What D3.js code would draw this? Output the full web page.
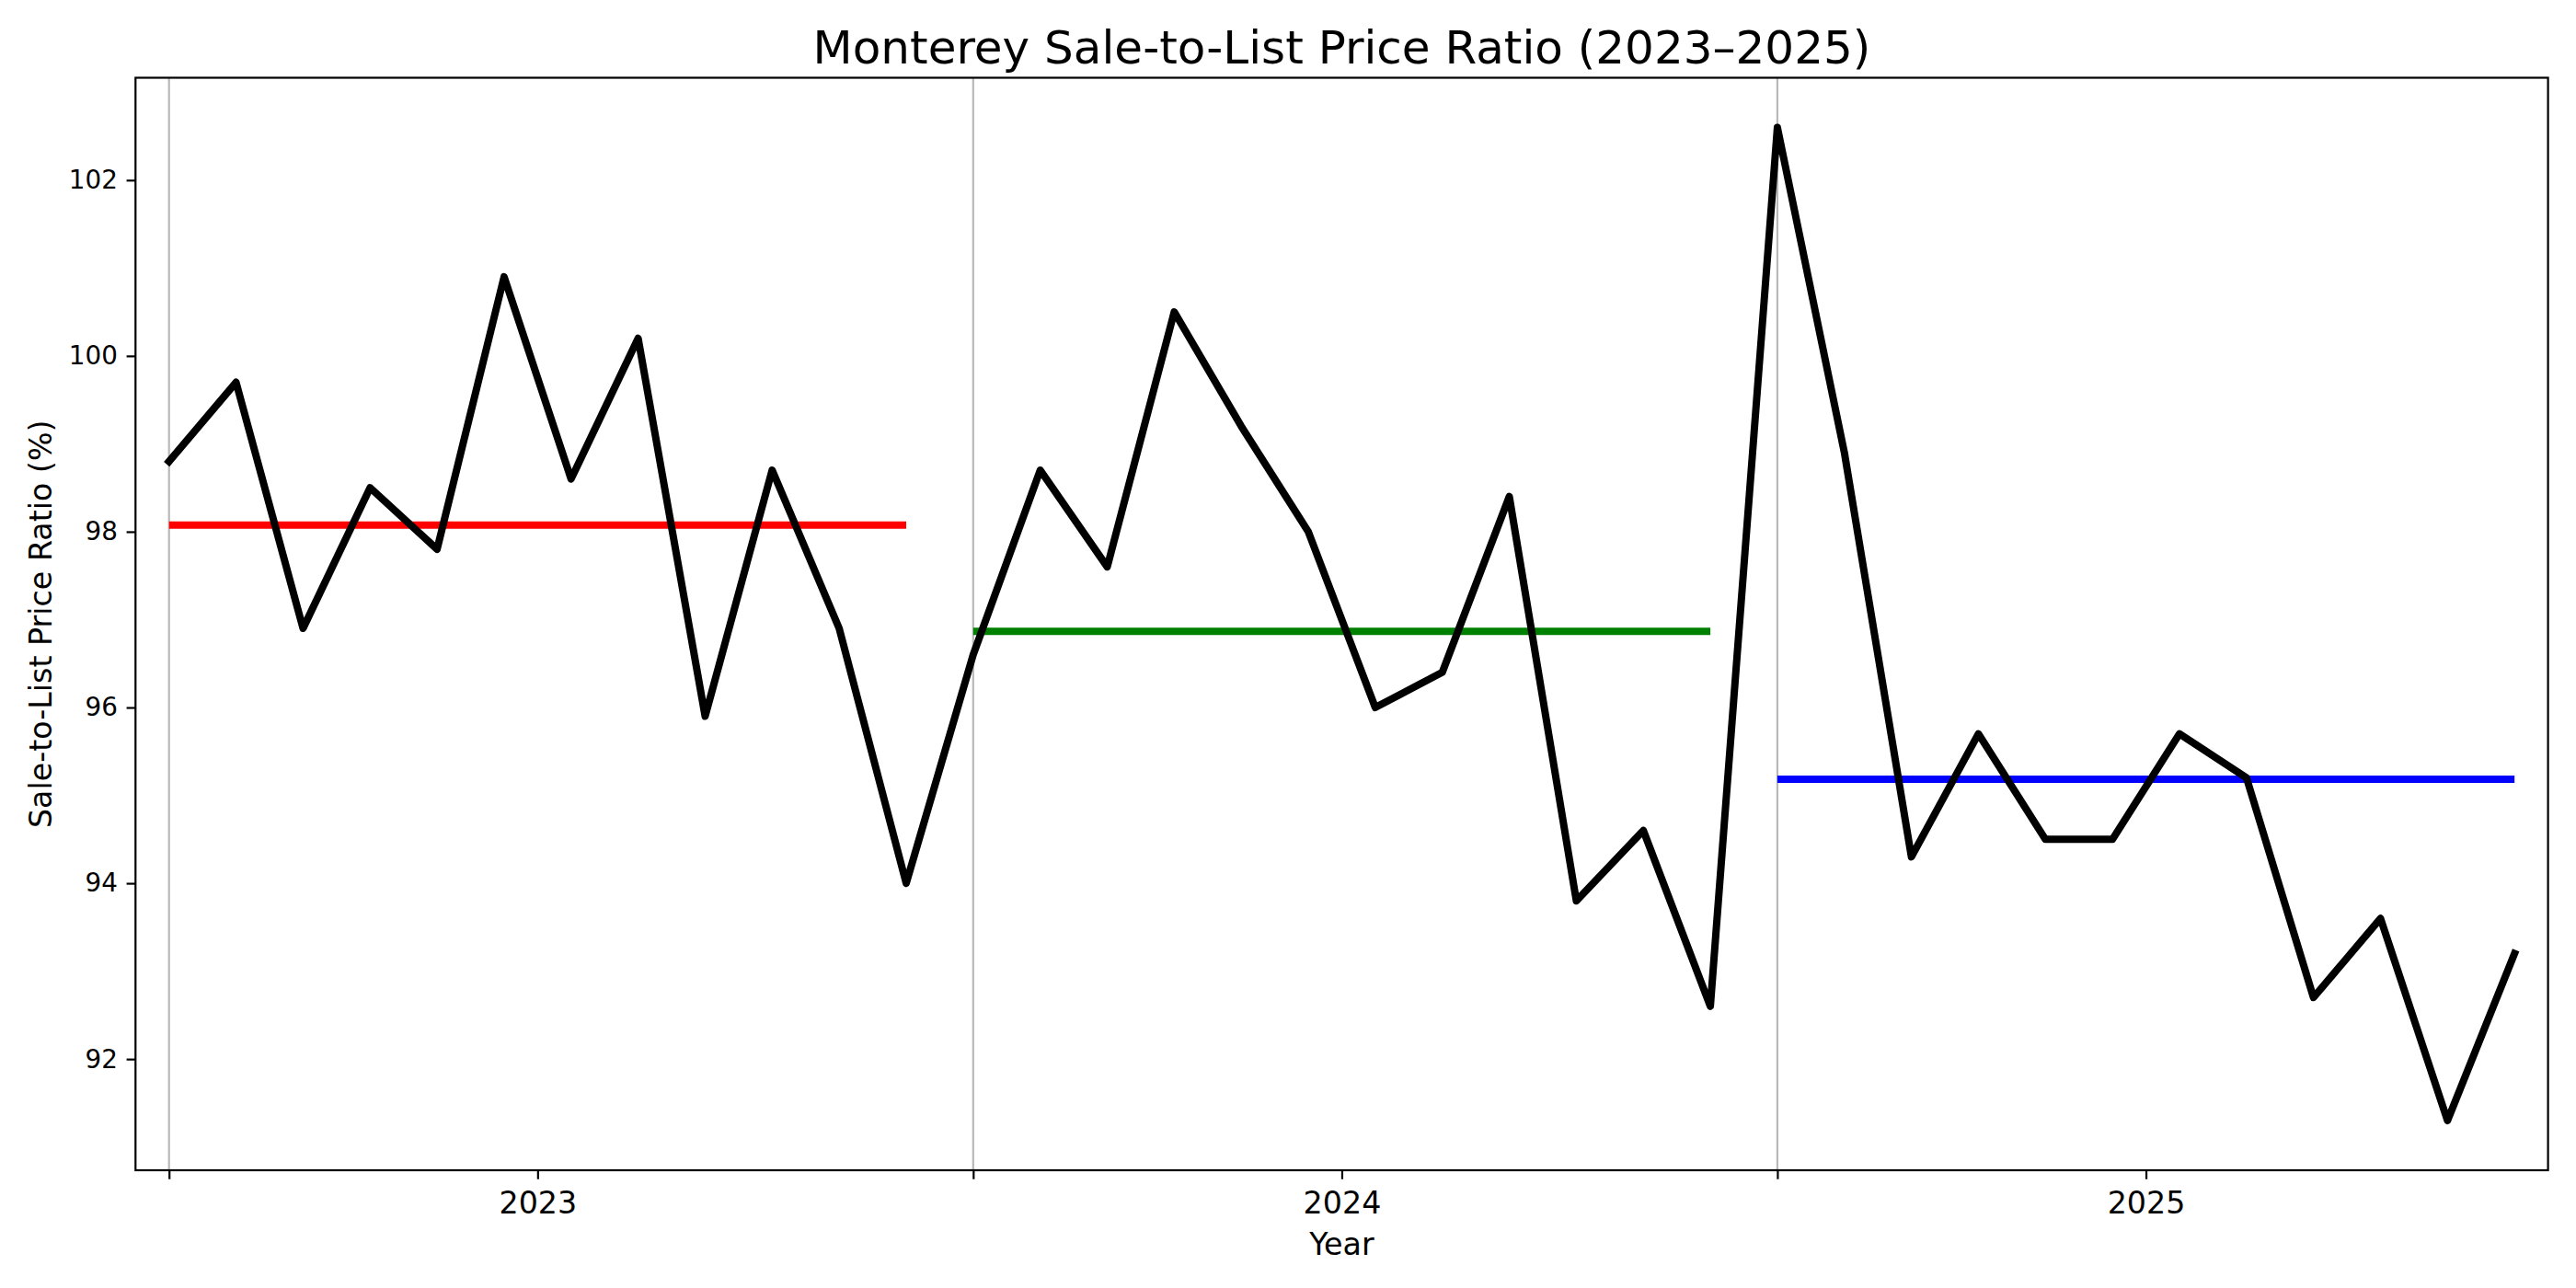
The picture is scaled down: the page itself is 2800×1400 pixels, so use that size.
<!DOCTYPE html>
<html>
<head>
<meta charset="utf-8">
<script src="https://cdn.jsdelivr.net/npm/d3@7"></script>
<style>
  body { margin: 0; background: #fff; }
  text { font-family: "DejaVu Sans", sans-serif; fill: #000; }
</style>
</head>
<body>
<div id="chart"></div>
<script>
// monthly sale-to-list ratio, Jan 2023 .. Dec 2025
const years = ["2023", "2024", "2025"];
const ratio2023 = [98.8, 99.7, 96.9, 98.5, 97.8, 100.9, 98.6, 100.2, 95.9, 98.7, 96.9, 94.0];
const ratio2024 = [96.6, 98.7, 97.6, 100.5, 99.2, 98.0, 96.0, 96.4, 98.4, 93.8, 94.6, 92.6];
const ratio2025 = [102.6, 98.9, 94.3, 95.7, 94.5, 94.5, 95.7, 95.2, 92.7, 93.6, 91.3, 93.2];
const yearColors = ["#ff0000", "#008000", "#0000ff"];
const yTicks = [92, 94, 96, 98, 100, 102];
const xTickPos = [0, 5.5, 12, 17.5, 24, 29.5];
const xTickLabels = ["", "2023", "", "2024", "", "2025"];

const byYear = [ratio2023, ratio2024, ratio2025];
const series = [].concat(...byYear).map((v, i) => ({ i: i, v: v }));

const W = 2800, H = 1400;
const margin = { top: 84.5, right: 30.4, bottom: 128, left: 147.3 },
    width = W - margin.left - margin.right,
    height = H - margin.top - margin.bottom;

const svg = d3.select("#chart")
    .append("svg")
    .attr("width", W)
    .attr("height", H);

const g = svg.append("g")
    .attr("transform", `translate(${margin.left}, ${margin.top})`);

const x = d3.scaleLinear()
    .domain([-0.5, series.length - 0.5])
    .range([0, width]);

// matplotlib-ish 5% padding on y
const ext = d3.extent(series, d => d.v);
const pad = (ext[1] - ext[0]) * 0.05;
const y = d3.scaleLinear()
    .domain([ext[0] - pad, ext[1] + pad])
    .range([height, 0]);

// year boundaries
g.selectAll(".yearline")
    .data(byYear.map((d, k) => k * 12))
    .join("line")
    .attr("class", "yearline")
    .attr("x1", d => x(d)).attr("x2", d => x(d))
    .attr("y1", 0).attr("y2", height)
    .attr("stroke", "#b9b9b9")
    .attr("stroke-width", 2.2);

// yearly averages
const means = byYear.map((arr, k) => ({ k: k, start: k * 12, end: k * 12 + arr.length - 1, m: d3.mean(arr) }));
g.selectAll(".meanline")
    .data(means)
    .join("line")
    .attr("class", "meanline")
    .attr("x1", d => x(d.start)).attr("x2", d => x(d.end))
    .attr("y1", d => y(d.m)).attr("y2", d => y(d.m))
    .attr("stroke", d => yearColors[d.k])
    .attr("stroke-width", 8)
    .attr("stroke-linecap", "butt");

// monthly line
const line = d3.line()
    .x(d => x(d.i))
    .y(d => y(d.v));
g.append("path")
    .datum(series)
    .attr("fill", "none")
    .attr("stroke", "#000")
    .attr("stroke-width", 8)
    .attr("stroke-linejoin", "round")
    .attr("stroke-linecap", "square")
    .attr("d", line);

// axes
const xAxis = g.append("g")
    .attr("transform", `translate(0, ${height})`)
    .call(d3.axisBottom(x)
        .tickValues(xTickPos)
        .tickFormat((d, i) => xTickLabels[i])
        .tickSize(9.7)
        .tickPadding(13.5));
xAxis.select(".domain").remove();
xAxis.selectAll(".tick line").attr("stroke-width", 2.2);
xAxis.selectAll("text")
    .attr("font-size", 33.3)
    .attr("font-family", "DejaVu Sans")
    .attr("fill", "#000");

const yAxis = g.append("g")
    .call(d3.axisLeft(y)
        .tickValues(yTicks)
        .tickSize(9.7)
        .tickPadding(9.7));
yAxis.select(".domain").remove();
yAxis.selectAll(".tick line").attr("stroke-width", 2.2);
yAxis.selectAll("text")
    .attr("font-size", 27.8)
    .attr("font-family", "DejaVu Sans")
    .attr("fill", "#000");

// frame
g.append("rect")
    .attr("width", width)
    .attr("height", height)
    .attr("fill", "none")
    .attr("stroke", "#000")
    .attr("stroke-width", 2.2);

// labels
svg.append("text")
    .attr("x", margin.left + width / 2)
    .attr("y", 68.5)
    .attr("text-anchor", "middle")
    .attr("font-size", 50)
    .text("Monterey Sale-to-List Price Ratio (2023\u20132025)");

svg.append("text")
    .attr("x", margin.left + width / 2)
    .attr("y", 1364)
    .attr("text-anchor", "middle")
    .attr("font-size", 33.3)
    .text("Year");

svg.append("text")
    .attr("transform", `translate(55.5, ${margin.top + height / 2}) rotate(-90)`)
    .attr("text-anchor", "middle")
    .attr("font-size", 33.3)
    .text("Sale-to-List Price Ratio (%)");
</script>
</body>
</html>
